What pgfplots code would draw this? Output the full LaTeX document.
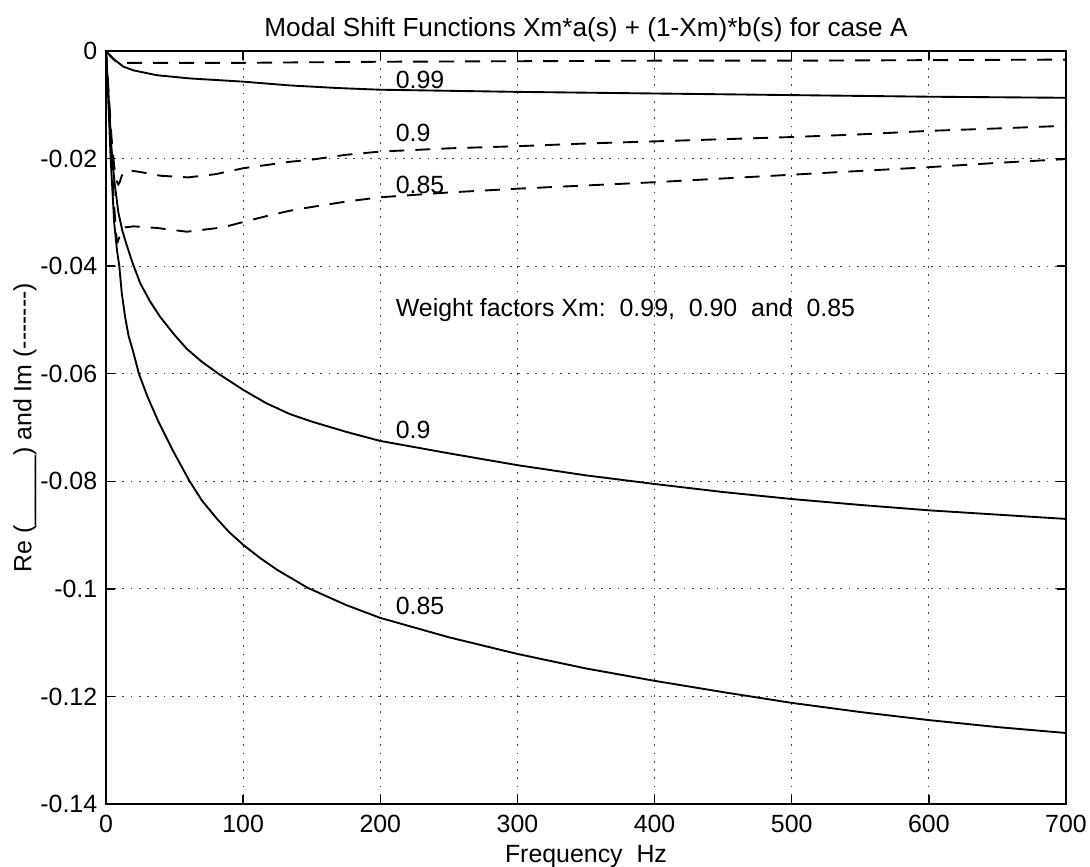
\documentclass[border=0pt]{standalone}
\usepackage{fontspec}
\setmainfont{Liberation Sans}
\usepackage{pgfplots}
\pgfplotsset{compat=1.18}

\begin{document}
\begin{tikzpicture}
\begin{axis}[
  scale only axis,
  width=384bp, height=301.2bp,
  xmin=0, xmax=700, ymin=-0.14, ymax=0,
  xtick={0,100,200,300,400,500,600,700},
  xticklabels={0,100,200,300,400,500,600,700},
  ytick={-0.14,-0.12,-0.1,-0.08,-0.06,-0.04,-0.02,0},
  yticklabels={-0.14,-0.12,-0.1,-0.08,-0.06,-0.04,-0.02,0},
  tick align=inside, xtick pos=both, ytick pos=both,
  major tick length=3.6bp,
  grid=major,
  major grid style={line width=0.45bp, black!75, dash pattern=on 0.7bp off 2.6bp},
  axis line style={line width=0.6bp},
  every tick/.style={line width=0.6bp, black},
  tick label style={font=\fontsize{10}{12}\selectfont},
  xticklabel style={anchor=base, yshift=-11.2bp},
  every axis title shift=0pt,
  title={Modal Shift Functions Xm*a(s) + (1-Xm)*b(s) for case A},
  title style={at={(0.5,1)}, anchor=base, yshift=5.6bp, font=\fontsize{10.5}{12}\selectfont},
  xlabel={Frequency~~Hz},
  xlabel style={at={(axis description cs:0.5,0)}, anchor=base, yshift=-23.2bp, font=\fontsize{10}{12}\selectfont},
  ylabel={Re (\_\_\_\_\_) and Im (-{}-{}-{}-{}-{}-{}-)},
  ylabel style={at={(axis description cs:-0.0844,0.5)}, anchor=center, font=\fontsize{10}{12}\selectfont},
  every axis plot/.append style={line width=0.75bp, black},
]
% Re, Xm = 0.99
\addplot[solid] coordinates {
  (0,0) (3,-0.0008) (6.6,-0.0017) (12.6,-0.0029) (20,-0.0036) (37,-0.0045)
  (61,-0.0051) (100,-0.0057) (134,-0.0064) (170,-0.0069) (200,-0.0072)
  (250,-0.0074) (300,-0.0076) (400,-0.0079) (500,-0.0082) (600,-0.0085) (700,-0.0087)
};
% Im, Xm = 0.99
\addplot[dash pattern=on 6bp off 4.4bp] coordinates {
  (0,0) (4,-0.0012) (8,-0.0021) (15,-0.0022) (50,-0.0022) (100,-0.0022)
  (200,-0.0020) (300,-0.0019) (400,-0.0018) (500,-0.0018) (600,-0.0017) (700,-0.0016)
};
% Re, Xm = 0.9
\addplot[solid] coordinates {
  (0,0) (2,-0.009) (4,-0.018) (6,-0.024) (9,-0.030) (12,-0.0335) (15,-0.036)
  (19.5,-0.0395) (25,-0.0432) (32,-0.0465) (39.4,-0.0494) (50,-0.0528) (59,-0.0554)
  (70,-0.0578) (82,-0.0600) (91,-0.0615) (100,-0.0630) (117,-0.0655) (134,-0.0675)
  (150,-0.0689) (175,-0.0708) (200,-0.0725) (250,-0.0748) (300,-0.0770) (350,-0.0789)
  (400,-0.0805) (450,-0.0820) (500,-0.0833) (550,-0.0844) (600,-0.0854) (650,-0.0862)
  (700,-0.0870)
};
% Im, Xm = 0.9
\addplot[dash pattern=on 6bp off 4.4bp] coordinates {
  (0,0) (2,-0.008) (4,-0.016) (6,-0.0215) (8,-0.0243) (9,-0.0248) (10,-0.0244)
  (11.5,-0.0232) (13,-0.0225) (17,-0.0222) (25,-0.0225) (40,-0.0232) (60,-0.0235)
  (80,-0.0229) (100,-0.0218) (134,-0.0206) (150,-0.0202) (175,-0.0193) (200,-0.0187)
  (250,-0.0181) (300,-0.0177) (350,-0.0172) (400,-0.0168) (450,-0.0164) (500,-0.0160)
  (550,-0.0155) (600,-0.01485) (650,-0.0144) (700,-0.0139)
};
% Re, Xm = 0.85
\addplot[solid] coordinates {
  (0,0) (1.5,-0.008) (3.4,-0.020) (6,-0.032) (8,-0.037) (9.7,-0.040) (11.5,-0.045)
  (13.9,-0.0494) (16.5,-0.053) (19.5,-0.0556) (24,-0.0600) (30,-0.0641) (38,-0.0688)
  (49,-0.0744) (61,-0.0800) (70,-0.0836) (81,-0.0870) (90,-0.0895) (100,-0.0918)
  (112,-0.0942) (125,-0.0965) (147,-0.0998) (175,-0.1030) (200,-0.1054) (250,-0.1090)
  (300,-0.1121) (350,-0.1148) (400,-0.1171) (450,-0.1192) (500,-0.1212) (550,-0.1229)
  (600,-0.1244) (650,-0.1257) (700,-0.1268)
};
% Im, Xm = 0.85
\addplot[dash pattern=on 6bp off 4.4bp] coordinates {
  (0,0) (2,-0.010) (4,-0.020) (6,-0.029) (7.8,-0.0352) (8.5,-0.0355) (9.5,-0.0348)
  (11,-0.0335) (14,-0.0328) (20,-0.0326) (37,-0.0329) (59,-0.0336) (85,-0.0328)
  (100,-0.0318) (117,-0.0307) (134,-0.0297) (150,-0.0290) (175,-0.0280) (200,-0.0272)
  (250,-0.0263) (300,-0.0256) (350,-0.0250) (400,-0.0244) (450,-0.0237) (500,-0.0230)
  (550,-0.0223) (600,-0.0216) (650,-0.0208) (700,-0.0201)
};
\begin{scope}[every node/.style={anchor=base west, inner sep=0pt, font=\fontsize{10}{12}\selectfont}]
  \node at (axis cs:211,-0.0069) {0.99};
  \node at (axis cs:211,-0.0169) {0.9};
  \node at (axis cs:211,-0.0265) {0.85};
  \node at (axis cs:211,-0.0494) {Weight factors Xm:~~0.99,~~0.90~~and~~0.85};
  \node at (axis cs:211,-0.0720) {0.9};
  \node at (axis cs:211,-0.1048) {0.85};
\end{scope}
\coordinate (sw) at (rel axis cs:0,0);
\coordinate (ne) at (rel axis cs:1,1);
\end{axis}
\pgfresetboundingbox
\path[use as bounding box] ([shift={(-42.4bp,-25.2bp)}]sw) rectangle ([shift={(9.6bp,20.4bp)}]ne);
\end{tikzpicture}
\end{document}
